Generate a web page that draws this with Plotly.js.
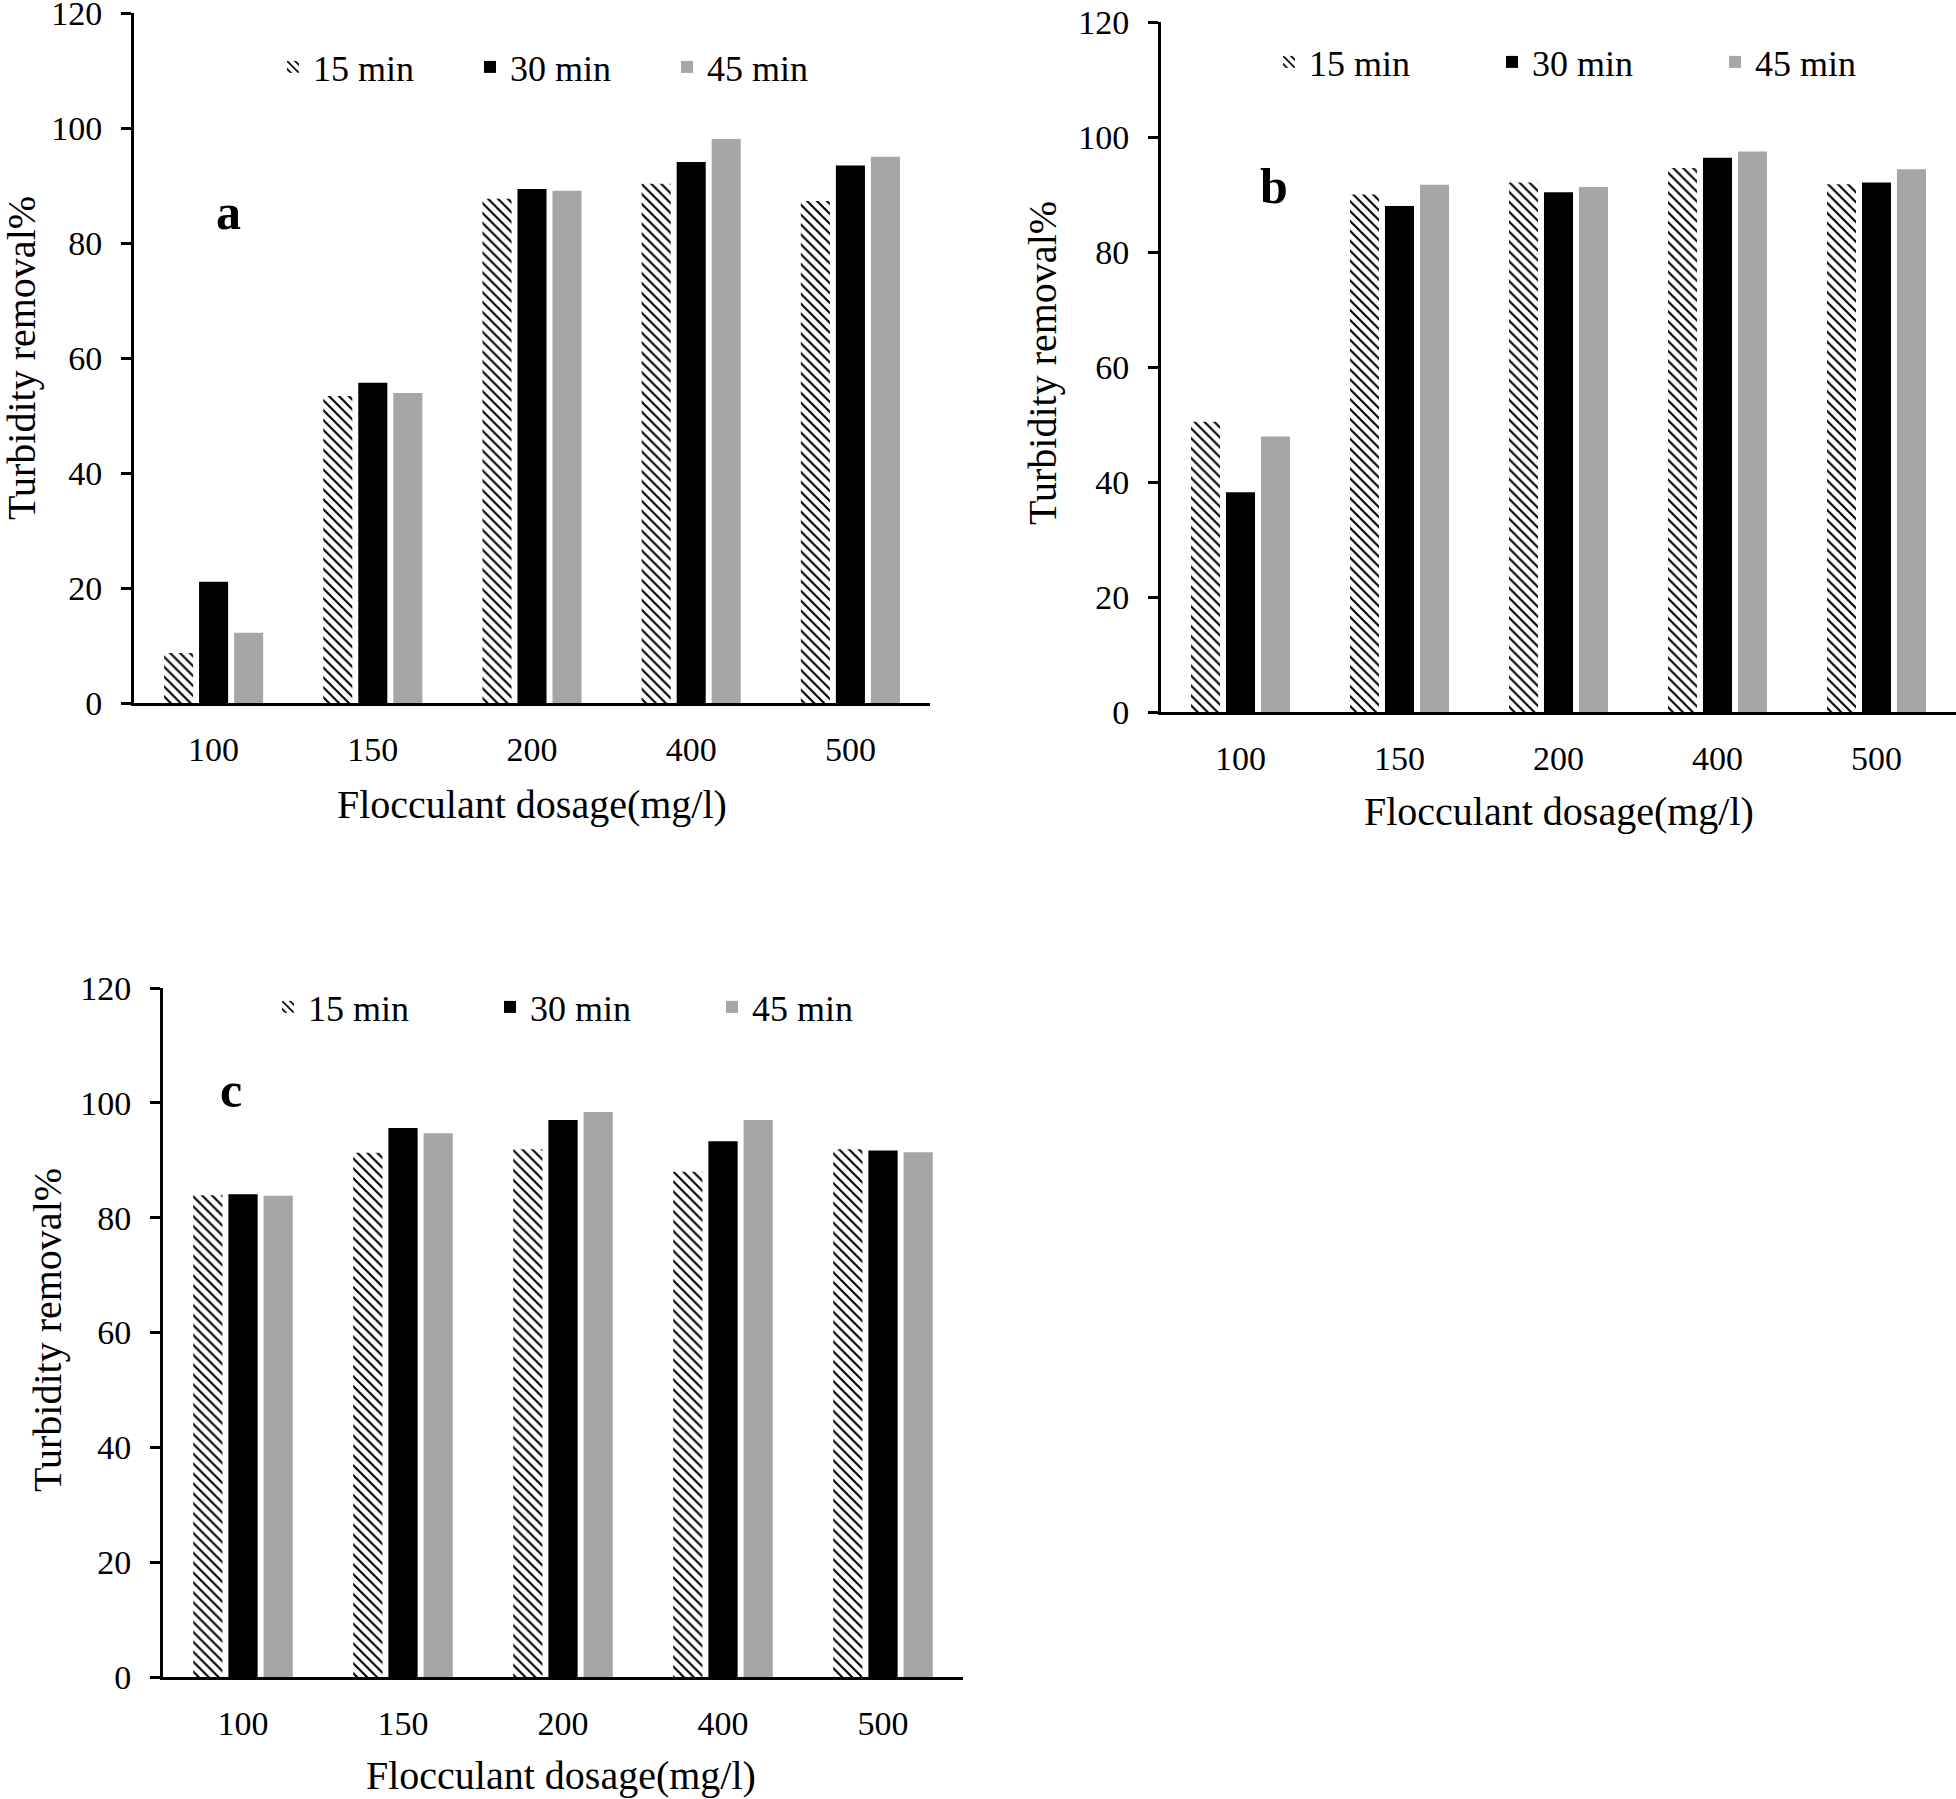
<!DOCTYPE html>
<html>
<head>
<meta charset="utf-8">
<script src="https://cdn.plot.ly/plotly-3.0.1.min.js"></script>
<style>html,body{margin:0;padding:0;background:#fff;}#chart{width:1956px;height:1799px;}</style>
</head>
<body>
<div id="chart"></div>
<script>
// ---- data ----
const categories = ['100', '150', '200', '400', '500'];
const seriesNames = ['15 min', '30 min', '45 min'];
const xTitle = 'Flocculant dosage(mg/l)';
const yTitle = 'Turbidity removal%';
const panelLabels = ['a', 'b', 'c'];

const a15 = [8.7, 53.4, 87.7, 90.3, 87.3];
const a30 = [21.1, 55.7, 89.4, 94.1, 93.5];
const a45 = [12.2, 53.9, 89.1, 98.1, 95.0];

const b15 = [50.5, 90.0, 92.1, 94.6, 91.8];
const b30 = [38.2, 88.0, 90.4, 96.4, 92.1];
const b45 = [47.9, 91.7, 91.3, 97.5, 94.4];

const c15 = [83.9, 91.3, 91.9, 88.0, 91.9];
const c30 = [84.1, 95.6, 97.0, 93.3, 91.7];
const c45 = [83.8, 94.7, 98.4, 97.0, 91.4];

// ---- styling ----
const W = 1956, H = 1799;
const FONT = 'Liberation Serif';
const px = v => v / W;
const py = v => 1 - v / H;

const markers = [
  {color: '#ffffff', line: {width: 0}, pattern: {shape: '\\', fgcolor: '#000000', bgcolor: '#ffffff', size: 7, solidity: 0.3}},
  {color: '#000000', line: {width: 0}},
  {color: '#a6a6a6', line: {width: 0}}
];

const panels = [
  {vals: [a15, a30, a45], xa: 'x', ya: 'y', lg: 'legend'},
  {vals: [b15, b30, b45], xa: 'x2', ya: 'y2', lg: 'legend2'},
  {vals: [c15, c30, c45], xa: 'x3', ya: 'y3', lg: 'legend3'}
];

const traces = [];
panels.forEach(p => {
  p.vals.forEach((v, i) => {
    traces.push({
      type: 'bar', x: categories, y: v, name: seriesNames[i],
      xaxis: p.xa, yaxis: p.ya, legend: p.lg,
      marker: markers[i], hoverinfo: 'skip'
    });
  });
});

function yAxis(d0, d1, anchor) {
  return {
    domain: [py(d1), py(d0)], anchor: anchor, range: [0, 120], dtick: 20, tick0: 0,
    showline: true, linewidth: 3, linecolor: '#000', ticks: 'outside', ticklen: 10, tickwidth: 3, tickcolor: '#000',
    showgrid: false, zeroline: false, ticklabelstandoff: 12, ticklabeloverflow: 'allow',
    tickfont: {family: FONT, size: 34, color: '#000'}, fixedrange: true
  };
}
function xAxis(l, r, anchor) {
  return {
    domain: [px(l), px(r)], anchor: anchor, type: 'category',
    showline: true, linewidth: 3, linecolor: '#000', ticks: '', showgrid: false, zeroline: false,
    ticklabelstandoff: 14, ticklabeloverflow: 'allow',
    tickfont: {family: FONT, size: 34, color: '#000'}, fixedrange: true
  };
}
function legend(x, y, ew) {
  return {
    orientation: 'h', x: px(x), y: py(y), xanchor: 'left', yanchor: 'middle',
    entrywidth: ew, entrywidthmode: 'pixels', bgcolor: 'rgba(0,0,0,0)',
    font: {family: FONT, size: 36, color: '#000'}, traceorder: 'normal'
  };
}

const annotations = [];
function ann(text, x, y, size, angle, bold) {
  annotations.push({
    text: text, x: px(x), y: py(y), xref: 'paper', yref: 'paper', showarrow: false,
    xanchor: 'center', yanchor: 'middle', textangle: angle || 0,
    font: {family: FONT, size: size, color: '#000', weight: bold ? 'bold' : 'normal'}
  });
}
// axis titles & panel letters
ann(yTitle, 22, 358, 40, -90);
ann(xTitle, 532, 805, 40);
ann(yTitle, 1043, 363, 40, -90);
ann(xTitle, 1559, 812, 40);
ann(yTitle, 47, 1330, 40, -90);
ann(xTitle, 561, 1775, 40);
ann(panelLabels[0], 228, 212, 50, 0, true);
ann(panelLabels[1], 1274, 186, 50, 0, true);
ann(panelLabels[2], 231, 1090, 50, 0, true);

const layout = {
  width: W, height: H, margin: {l: 0, r: 0, t: 0, b: 0, pad: 0},
  font: {family: FONT, color: '#000'},
  paper_bgcolor: '#fff', plot_bgcolor: 'rgba(0,0,0,0)',
  barmode: 'group', bargap: 0.34, bargroupgap: 0.17,
  showlegend: true,
  xaxis: xAxis(134, 930, 'y'),
  yaxis: yAxis(13, 703, 'x'),
  xaxis2: xAxis(1161, 1956, 'y2'),
  yaxis2: yAxis(22, 712, 'x2'),
  xaxis3: xAxis(163, 963, 'y3'),
  yaxis3: yAxis(988, 1677, 'x3'),
  legend: legend(273, 67, 152),
  legend2: legend(1269, 62, 178),
  legend3: legend(268, 1007, 177),
  annotations: annotations
};

Plotly.newPlot('chart', traces, layout, {staticPlot: true, displayModeBar: false});
</script>
</body>
</html>
